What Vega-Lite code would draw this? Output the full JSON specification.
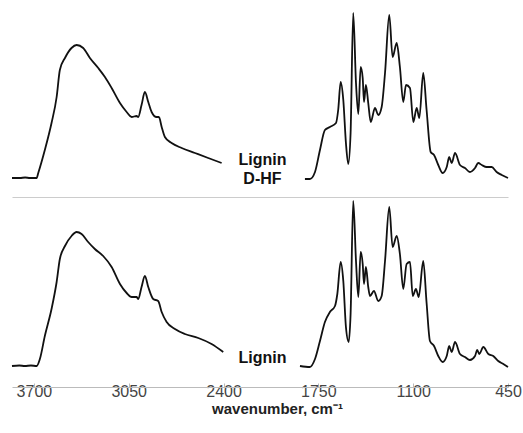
{
  "$schema": "https://vega.github.io/schema/vega-lite/v6.json",
  "background": "white",
  "padding": {"left": 8, "right": 0, "top": 0, "bottom": 0},
  "config": {"font": "Liberation Sans", "view": {"stroke": null}},
  "spacing": 0,
  "datasets": {
    "spectra": [
      {"panel": "top", "part": "L", "wn": 3850, "a": 0.19},
      {"panel": "top", "part": "L", "wn": 3796, "a": 0.19},
      {"panel": "top", "part": "L", "wn": 3760, "a": 0.195},
      {"panel": "top", "part": "L", "wn": 3727, "a": 0.19},
      {"panel": "top", "part": "L", "wn": 3681, "a": 0.19},
      {"panel": "top", "part": "L", "wn": 3670, "a": 0.24},
      {"panel": "top", "part": "L", "wn": 3625, "a": 0.47},
      {"panel": "top", "part": "L", "wn": 3579, "a": 0.74},
      {"panel": "top", "part": "L", "wn": 3544, "a": 1.0},
      {"panel": "top", "part": "L", "wn": 3522, "a": 1.27},
      {"panel": "top", "part": "L", "wn": 3487, "a": 1.39},
      {"panel": "top", "part": "L", "wn": 3442, "a": 1.49},
      {"panel": "top", "part": "L", "wn": 3407, "a": 1.52},
      {"panel": "top", "part": "L", "wn": 3362, "a": 1.49},
      {"panel": "top", "part": "L", "wn": 3316, "a": 1.39},
      {"panel": "top", "part": "L", "wn": 3259, "a": 1.29},
      {"panel": "top", "part": "L", "wn": 3213, "a": 1.2},
      {"panel": "top", "part": "L", "wn": 3167, "a": 1.09},
      {"panel": "top", "part": "L", "wn": 3110, "a": 0.94},
      {"panel": "top", "part": "L", "wn": 3064, "a": 0.85},
      {"panel": "top", "part": "L", "wn": 3030, "a": 0.8},
      {"panel": "top", "part": "L", "wn": 2996, "a": 0.81},
      {"panel": "top", "part": "L", "wn": 2985, "a": 0.8},
      {"panel": "top", "part": "L", "wn": 2962, "a": 0.92},
      {"panel": "top", "part": "L", "wn": 2939, "a": 1.05},
      {"panel": "top", "part": "L", "wn": 2916, "a": 0.95},
      {"panel": "top", "part": "L", "wn": 2893, "a": 0.85},
      {"panel": "top", "part": "L", "wn": 2859, "a": 0.8},
      {"panel": "top", "part": "L", "wn": 2843, "a": 0.8},
      {"panel": "top", "part": "L", "wn": 2824, "a": 0.7},
      {"panel": "top", "part": "L", "wn": 2802, "a": 0.6},
      {"panel": "top", "part": "L", "wn": 2756, "a": 0.54},
      {"panel": "top", "part": "L", "wn": 2687, "a": 0.49},
      {"panel": "top", "part": "L", "wn": 2596, "a": 0.44},
      {"panel": "top", "part": "L", "wn": 2505, "a": 0.39},
      {"panel": "top", "part": "L", "wn": 2413, "a": 0.34},
      {"panel": "top", "part": "R", "wn": 1842, "a": 0.18},
      {"panel": "top", "part": "R", "wn": 1808, "a": 0.18},
      {"panel": "top", "part": "R", "wn": 1773, "a": 0.25},
      {"panel": "top", "part": "R", "wn": 1739, "a": 0.47},
      {"panel": "top", "part": "R", "wn": 1705, "a": 0.67},
      {"panel": "top", "part": "R", "wn": 1671, "a": 0.7},
      {"panel": "top", "part": "R", "wn": 1629, "a": 0.74},
      {"panel": "top", "part": "R", "wn": 1614, "a": 0.87},
      {"panel": "top", "part": "R", "wn": 1597, "a": 1.15},
      {"panel": "top", "part": "R", "wn": 1579, "a": 0.97},
      {"panel": "top", "part": "R", "wn": 1561, "a": 0.54},
      {"panel": "top", "part": "R", "wn": 1545, "a": 0.33},
      {"panel": "top", "part": "R", "wn": 1529, "a": 0.64},
      {"panel": "top", "part": "R", "wn": 1511, "a": 1.84},
      {"panel": "top", "part": "R", "wn": 1492, "a": 1.14},
      {"panel": "top", "part": "R", "wn": 1476, "a": 0.83},
      {"panel": "top", "part": "R", "wn": 1460, "a": 1.3},
      {"panel": "top", "part": "R", "wn": 1446, "a": 1.19},
      {"panel": "top", "part": "R", "wn": 1437, "a": 0.95},
      {"panel": "top", "part": "R", "wn": 1424, "a": 1.12},
      {"panel": "top", "part": "R", "wn": 1408, "a": 0.94},
      {"panel": "top", "part": "R", "wn": 1391, "a": 0.75},
      {"panel": "top", "part": "R", "wn": 1362, "a": 0.89},
      {"panel": "top", "part": "R", "wn": 1339, "a": 0.82},
      {"panel": "top", "part": "R", "wn": 1316, "a": 0.9},
      {"panel": "top", "part": "R", "wn": 1293, "a": 1.24},
      {"panel": "top", "part": "R", "wn": 1264, "a": 1.82},
      {"panel": "top", "part": "R", "wn": 1241, "a": 1.4},
      {"panel": "top", "part": "R", "wn": 1213, "a": 1.54},
      {"panel": "top", "part": "R", "wn": 1191, "a": 1.3},
      {"panel": "top", "part": "R", "wn": 1168, "a": 0.95},
      {"panel": "top", "part": "R", "wn": 1149, "a": 1.12},
      {"panel": "top", "part": "R", "wn": 1122, "a": 1.09},
      {"panel": "top", "part": "R", "wn": 1099, "a": 0.75},
      {"panel": "top", "part": "R", "wn": 1076, "a": 0.89},
      {"panel": "top", "part": "R", "wn": 1058, "a": 0.79},
      {"panel": "top", "part": "R", "wn": 1031, "a": 1.24},
      {"panel": "top", "part": "R", "wn": 1008, "a": 0.87},
      {"panel": "top", "part": "R", "wn": 980, "a": 0.45},
      {"panel": "top", "part": "R", "wn": 957, "a": 0.42},
      {"panel": "top", "part": "R", "wn": 928, "a": 0.32},
      {"panel": "top", "part": "R", "wn": 898, "a": 0.24},
      {"panel": "top", "part": "R", "wn": 870, "a": 0.3},
      {"panel": "top", "part": "R", "wn": 853, "a": 0.4},
      {"panel": "top", "part": "R", "wn": 836, "a": 0.34},
      {"panel": "top", "part": "R", "wn": 813, "a": 0.44},
      {"panel": "top", "part": "R", "wn": 779, "a": 0.32},
      {"panel": "top", "part": "R", "wn": 745, "a": 0.29},
      {"panel": "top", "part": "R", "wn": 711, "a": 0.25},
      {"panel": "top", "part": "R", "wn": 676, "a": 0.29},
      {"panel": "top", "part": "R", "wn": 654, "a": 0.34},
      {"panel": "top", "part": "R", "wn": 630, "a": 0.32},
      {"panel": "top", "part": "R", "wn": 596, "a": 0.3},
      {"panel": "top", "part": "R", "wn": 562, "a": 0.3},
      {"panel": "top", "part": "R", "wn": 528, "a": 0.25},
      {"panel": "top", "part": "R", "wn": 493, "a": 0.22},
      {"panel": "top", "part": "R", "wn": 450, "a": 0.19},
      {"panel": "bottom", "part": "L", "wn": 3850, "a": 0.21},
      {"panel": "bottom", "part": "L", "wn": 3800, "a": 0.215},
      {"panel": "bottom", "part": "L", "wn": 3762, "a": 0.21},
      {"panel": "bottom", "part": "L", "wn": 3720, "a": 0.215},
      {"panel": "bottom", "part": "L", "wn": 3681, "a": 0.21},
      {"panel": "bottom", "part": "L", "wn": 3659, "a": 0.28},
      {"panel": "bottom", "part": "L", "wn": 3625, "a": 0.51},
      {"panel": "bottom", "part": "L", "wn": 3579, "a": 0.78},
      {"panel": "bottom", "part": "L", "wn": 3544, "a": 1.05},
      {"panel": "bottom", "part": "L", "wn": 3522, "a": 1.28},
      {"panel": "bottom", "part": "L", "wn": 3487, "a": 1.41},
      {"panel": "bottom", "part": "L", "wn": 3442, "a": 1.51},
      {"panel": "bottom", "part": "L", "wn": 3407, "a": 1.55},
      {"panel": "bottom", "part": "L", "wn": 3373, "a": 1.53},
      {"panel": "bottom", "part": "L", "wn": 3328, "a": 1.45},
      {"panel": "bottom", "part": "L", "wn": 3282, "a": 1.38},
      {"panel": "bottom", "part": "L", "wn": 3225, "a": 1.31},
      {"panel": "bottom", "part": "L", "wn": 3167, "a": 1.2},
      {"panel": "bottom", "part": "L", "wn": 3110, "a": 1.03},
      {"panel": "bottom", "part": "L", "wn": 3064, "a": 0.94},
      {"panel": "bottom", "part": "L", "wn": 3030, "a": 0.9},
      {"panel": "bottom", "part": "L", "wn": 2996, "a": 0.9},
      {"panel": "bottom", "part": "L", "wn": 2985, "a": 0.88},
      {"panel": "bottom", "part": "L", "wn": 2962, "a": 1.0},
      {"panel": "bottom", "part": "L", "wn": 2939, "a": 1.11},
      {"panel": "bottom", "part": "L", "wn": 2916, "a": 1.0},
      {"panel": "bottom", "part": "L", "wn": 2882, "a": 0.88},
      {"panel": "bottom", "part": "L", "wn": 2848, "a": 0.86},
      {"panel": "bottom", "part": "L", "wn": 2824, "a": 0.75},
      {"panel": "bottom", "part": "L", "wn": 2790, "a": 0.65},
      {"panel": "bottom", "part": "L", "wn": 2733, "a": 0.58},
      {"panel": "bottom", "part": "L", "wn": 2665, "a": 0.53},
      {"panel": "bottom", "part": "L", "wn": 2573, "a": 0.49},
      {"panel": "bottom", "part": "L", "wn": 2482, "a": 0.43},
      {"panel": "bottom", "part": "L", "wn": 2402, "a": 0.35},
      {"panel": "bottom", "part": "R", "wn": 1876, "a": 0.21},
      {"panel": "bottom", "part": "R", "wn": 1808, "a": 0.2},
      {"panel": "bottom", "part": "R", "wn": 1773, "a": 0.28},
      {"panel": "bottom", "part": "R", "wn": 1739, "a": 0.46},
      {"panel": "bottom", "part": "R", "wn": 1705, "a": 0.65},
      {"panel": "bottom", "part": "R", "wn": 1671, "a": 0.75},
      {"panel": "bottom", "part": "R", "wn": 1636, "a": 0.81},
      {"panel": "bottom", "part": "R", "wn": 1620, "a": 0.93},
      {"panel": "bottom", "part": "R", "wn": 1597, "a": 1.25},
      {"panel": "bottom", "part": "R", "wn": 1579, "a": 1.06},
      {"panel": "bottom", "part": "R", "wn": 1561, "a": 0.6},
      {"panel": "bottom", "part": "R", "wn": 1542, "a": 0.45},
      {"panel": "bottom", "part": "R", "wn": 1529, "a": 0.73},
      {"panel": "bottom", "part": "R", "wn": 1511, "a": 1.86},
      {"panel": "bottom", "part": "R", "wn": 1492, "a": 1.26},
      {"panel": "bottom", "part": "R", "wn": 1476, "a": 0.9},
      {"panel": "bottom", "part": "R", "wn": 1460, "a": 1.35},
      {"panel": "bottom", "part": "R", "wn": 1446, "a": 1.23},
      {"panel": "bottom", "part": "R", "wn": 1437, "a": 1.03},
      {"panel": "bottom", "part": "R", "wn": 1424, "a": 1.2},
      {"panel": "bottom", "part": "R", "wn": 1408, "a": 1.0},
      {"panel": "bottom", "part": "R", "wn": 1396, "a": 0.91},
      {"panel": "bottom", "part": "R", "wn": 1369, "a": 0.96},
      {"panel": "bottom", "part": "R", "wn": 1339, "a": 0.86},
      {"panel": "bottom", "part": "R", "wn": 1316, "a": 0.91},
      {"panel": "bottom", "part": "R", "wn": 1293, "a": 1.26},
      {"panel": "bottom", "part": "R", "wn": 1264, "a": 1.8},
      {"panel": "bottom", "part": "R", "wn": 1241, "a": 1.4},
      {"panel": "bottom", "part": "R", "wn": 1213, "a": 1.51},
      {"panel": "bottom", "part": "R", "wn": 1191, "a": 1.33},
      {"panel": "bottom", "part": "R", "wn": 1168, "a": 0.98},
      {"panel": "bottom", "part": "R", "wn": 1145, "a": 1.23},
      {"panel": "bottom", "part": "R", "wn": 1122, "a": 1.25},
      {"panel": "bottom", "part": "R", "wn": 1103, "a": 0.91},
      {"panel": "bottom", "part": "R", "wn": 1081, "a": 0.98},
      {"panel": "bottom", "part": "R", "wn": 1062, "a": 0.9},
      {"panel": "bottom", "part": "R", "wn": 1031, "a": 1.26},
      {"panel": "bottom", "part": "R", "wn": 1008, "a": 0.84},
      {"panel": "bottom", "part": "R", "wn": 985, "a": 0.46},
      {"panel": "bottom", "part": "R", "wn": 957, "a": 0.41},
      {"panel": "bottom", "part": "R", "wn": 928, "a": 0.31},
      {"panel": "bottom", "part": "R", "wn": 898, "a": 0.25},
      {"panel": "bottom", "part": "R", "wn": 870, "a": 0.31},
      {"panel": "bottom", "part": "R", "wn": 853, "a": 0.41},
      {"panel": "bottom", "part": "R", "wn": 836, "a": 0.35},
      {"panel": "bottom", "part": "R", "wn": 813, "a": 0.45},
      {"panel": "bottom", "part": "R", "wn": 779, "a": 0.33},
      {"panel": "bottom", "part": "R", "wn": 745, "a": 0.3},
      {"panel": "bottom", "part": "R", "wn": 711, "a": 0.27},
      {"panel": "bottom", "part": "R", "wn": 676, "a": 0.31},
      {"panel": "bottom", "part": "R", "wn": 661, "a": 0.37},
      {"panel": "bottom", "part": "R", "wn": 647, "a": 0.33},
      {"panel": "bottom", "part": "R", "wn": 619, "a": 0.4},
      {"panel": "bottom", "part": "R", "wn": 585, "a": 0.33},
      {"panel": "bottom", "part": "R", "wn": 551, "a": 0.31},
      {"panel": "bottom", "part": "R", "wn": 517, "a": 0.26},
      {"panel": "bottom", "part": "R", "wn": 482, "a": 0.23},
      {"panel": "bottom", "part": "R", "wn": 450, "a": 0.2}
    ],
    "labels": [
      {"panel": "top", "wn": 2133, "a": 0.37, "label": "Lignin\nD-HF"},
      {"panel": "bottom", "wn": 2133, "a": 0.29, "label": "Lignin"}
    ]
  },
  "vconcat": [
    {
      "width": 496,
      "height": 197,
      "layer": [
        {
          "data": {"name": "spectra"},
          "transform": [{"filter": "datum.panel === 'top'"}],
          "mark": {"type": "line", "interpolate": "monotone", "color": "#111111", "strokeWidth": 1.8, "clip": false},
          "encoding": {
            "x": {"field": "wn", "type": "quantitative", "scale": {"domain": [450, 3850], "reverse": true, "nice": false, "zero": false},
                  "axis": {"title": null, "labels": false, "ticks": false, "grid": false, "domainColor": "#cccccc", "domainWidth": 1.2}},
            "y": {"field": "a", "type": "quantitative", "scale": {"domain": [0, 1.97], "nice": false}, "axis": null},
            "detail": {"field": "part"}
          }
        },
        {
          "data": {"name": "labels"},
          "transform": [{"filter": "datum.panel === 'top'"}],
          "mark": {"type": "text", "font": "Liberation Sans", "fontWeight": "bold", "fontSize": 16, "lineBreak": "\n", "lineHeight": 19, "baseline": "middle", "align": "center", "color": "#111111"},
          "encoding": {
            "x": {"field": "wn", "type": "quantitative"},
            "y": {"field": "a", "type": "quantitative"},
            "text": {"field": "label"}
          }
        }
      ]
    },
    {
      "width": 496,
      "height": 186,
      "layer": [
        {
          "data": {"name": "spectra"},
          "transform": [{"filter": "datum.panel === 'bottom'"}],
          "mark": {"type": "line", "interpolate": "monotone", "color": "#111111", "strokeWidth": 1.8, "clip": false},
          "encoding": {
            "x": {"field": "wn", "type": "quantitative", "scale": {"domain": [450, 3850], "reverse": true, "nice": false, "zero": false},
                  "axis": {"title": "wavenumber, cm⁻¹", "values": [3700, 3050, 2400, 1750, 1100, 450], "format": "d", "labelFlush": false, "grid": false,
                           "domainColor": "#bbbbbb", "domainWidth": 1.2, "tickColor": "#bbbbbb", "tickSize": -4,
                           "labelFont": "Liberation Sans", "labelFontSize": 16, "labelColor": "#444444", "labelPadding": 0,
                           "titleFont": "Liberation Sans", "titleFontSize": 15, "titleFontWeight": "bold", "titleColor": "#222222",
                           "titlePadding": 2, "titleX": 265}},
            "y": {"field": "a", "type": "quantitative", "scale": {"domain": [0, 1.86], "nice": false}, "axis": null},
            "detail": {"field": "part"}
          }
        },
        {
          "data": {"name": "labels"},
          "transform": [{"filter": "datum.panel === 'bottom'"}],
          "mark": {"type": "text", "font": "Liberation Sans", "fontWeight": "bold", "fontSize": 16, "baseline": "middle", "align": "center", "color": "#111111"},
          "encoding": {
            "x": {"field": "wn", "type": "quantitative"},
            "y": {"field": "a", "type": "quantitative"},
            "text": {"field": "label"}
          }
        }
      ]
    }
  ]
}
